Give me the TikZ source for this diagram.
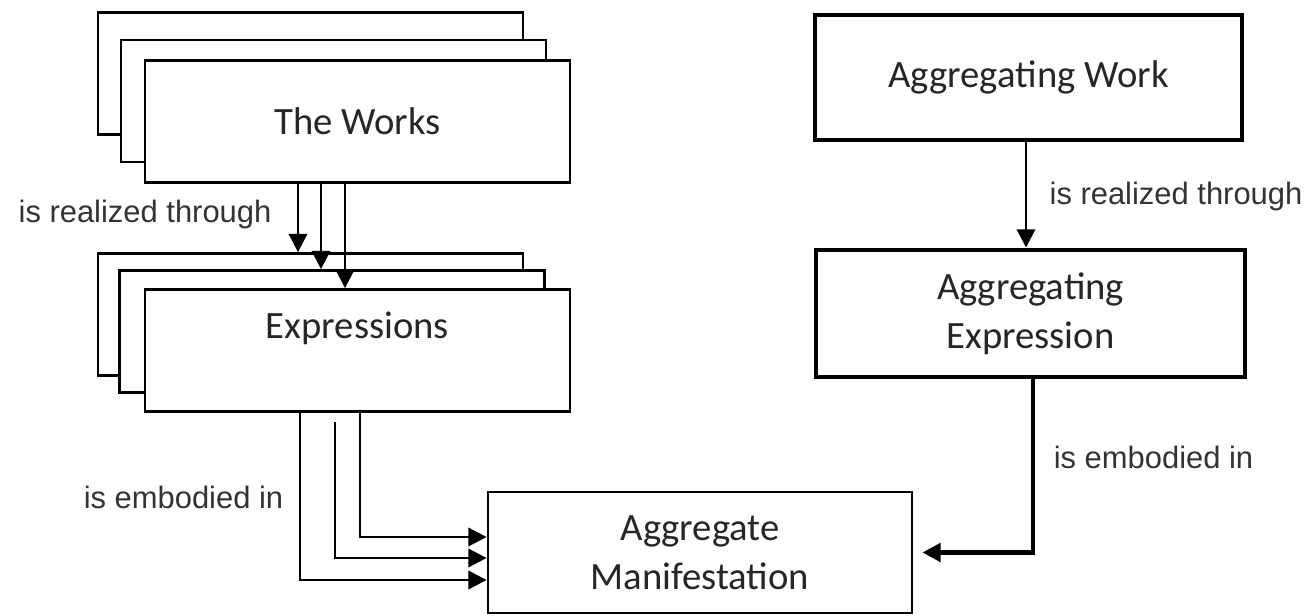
\documentclass[tikz,border=0pt]{standalone}
\usepackage{fontspec}
\setmainfont{Carlito}
\newfontfamily\relfont{Liberation Sans}
\usetikzlibrary{arrows.meta}

\begin{document}
\begin{tikzpicture}[x=1mm, y=1mm,
  entity/.style={draw, fill=white, line width=0.8pt, minimum width=4.25cm, minimum height=1.22cm,
    align=center, font=\fontsize{11}{14}\selectfont, text=black!85},
  strong/.style={entity, line width=1.4pt},
  rel/.style={font=\relfont\fontsize{8.8}{11}\selectfont, text=black!80},
  flow/.style={-{Triangle[length=5.2pt,width=5.2pt]}, line width=0.8pt}]
\tikzstyle{every node}+=[inner sep=0pt]
\useasboundingbox (0,0) rectangle (130.9,-61.5);
% works stack
\node [entity] (worksc) at (31.05,-7.35) {};
\node [entity] (worksb) at (33.35,-10.1) {};
\node [entity] (works) at (35.75,-12.15) {The Works};
% expressions stack
\node [entity] (exprc) at (31.05,-31.45) {};
\node [entity] (exprb) at (33.2,-33.15) {};
\node [entity, text depth=0.5cm] (expr) at (35.75,-35.05) {Expressions};
% manifestation
\node [entity, minimum width=4.24cm, minimum height=1.21cm] (manif) at (70.0,-55.25) {Aggregate\\Manifestation};
% aggregating side
\node [strong, minimum width=4.27cm, minimum height=1.25cm] (aggwork) at (102.85,-7.75) {Aggregating Work};
\node [strong, minimum width=4.29cm, minimum height=1.27cm] (aggexpr) at (103.05,-31.35) {Aggregating\\Expression};
% is realized through
\draw [flow] ([xshift=-0.595cm]works.south) -- ([xshift=-0.595cm]works.south |- exprc.north);
\draw [flow] ([xshift=-0.365cm]works.south) -- ([xshift=-0.365cm]works.south |- exprb.north);
\draw [flow] ([xshift=-0.125cm]works.south) -- ([xshift=-0.125cm]works.south |- expr.north);
\draw (14.5,-21.4) node [rel] {is realized through};
\draw [flow] ([xshift=-0.025cm]aggwork.south) -- ([xshift=-0.025cm]aggwork.south |- aggexpr.north);
\draw (117.6,-19.6) node [rel] {is realized through};
% is embodied in
\draw [flow] ([xshift=0.025cm]expr.south) |- ([yshift=0.155cm]manif.west);
\draw [flow] ([xshift=-0.225cm,yshift=-0.09cm]expr.south) |- ([yshift=-0.055cm]manif.west);
\draw [flow] ([xshift=-0.575cm]expr.south) |- ([yshift=-0.275cm]manif.west);
\draw (18.35,-49.7) node [rel] {is embodied in};
\draw [flow, line width=1.3pt] ([xshift=0.025cm]aggexpr.south) |- ([xshift=0.09cm]manif.east);
\draw (115.35,-45.7) node [rel] {is embodied in};
\end{tikzpicture}
\end{document}
